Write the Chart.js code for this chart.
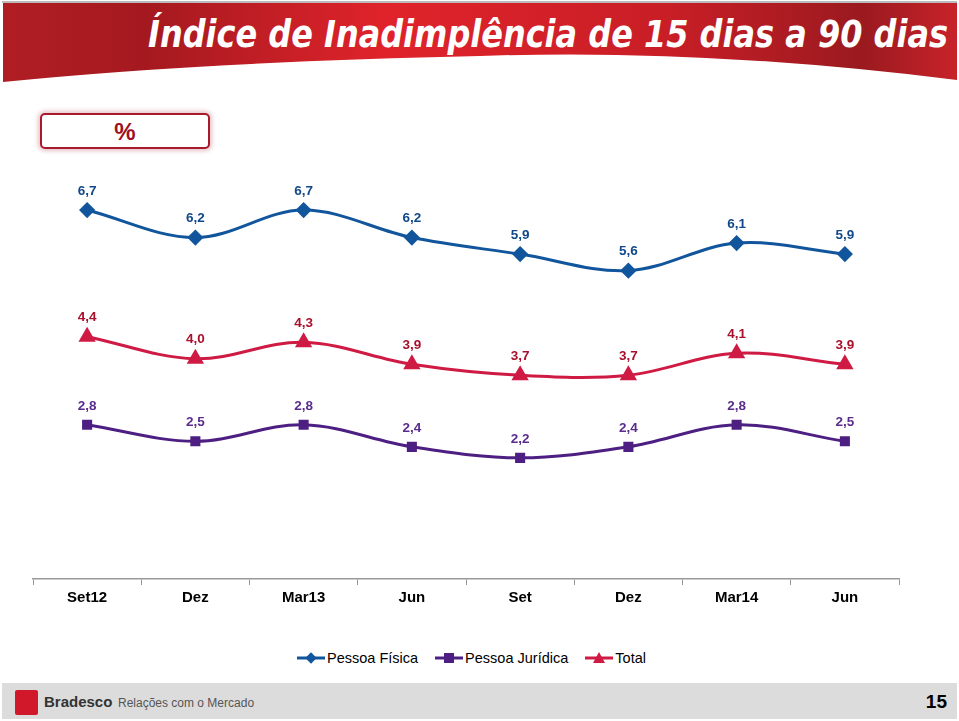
<!DOCTYPE html>
<html>
<head>
<meta charset="utf-8">
<script src="https://cdn.jsdelivr.net/npm/chart.js@4/dist/chart.umd.min.js"></script>
<style>
  html, body { margin: 0; padding: 0; background: #fff; }
  body { width: 959px; height: 721px; position: relative; overflow: hidden; font-family: "Liberation Sans", Arial, sans-serif; }
  #header { position: absolute; left: 0; top: 0; }
  #pct {
    position: absolute; left: 40px; top: 113px; width: 166px; height: 32px;
    border: 2px solid #a8192b; border-radius: 5px; background: #fff;
    box-shadow: 0 0 4px 2px rgba(200, 120, 130, 0.45);
    text-align: center; line-height: 34px; color: #9e1020; font-weight: bold; font-size: 24px;
  }
  #wrap { position: absolute; left: 0; top: 150px; width: 959px; height: 480px; }
  #legend { position: absolute; top: 650px; left: 297px; font-size: 14.5px; color: #000; white-space: nowrap; }
  #legend span.item { display: inline-flex; align-items: center; margin-right: 13px; }
  #legend svg { margin-right: 2px; }
  #footer { position: absolute; left: 2px; top: 683px; width: 955px; height: 36px; background: #dcdcdd; }
  #logo { position: absolute; left: 13px; top: 7px; width: 23px; height: 25px; background: #d1182b; border-radius: 2px; }
  #brand { position: absolute; left: 42px; top: 10px; font-size: 15px; font-weight: bold; color: #333; }
  #rel { position: absolute; left: 116px; top: 13px; font-size: 12px; color: #555; }
  #page { position: absolute; right: 10px; top: 8px; font-size: 19px; font-weight: bold; color: #000; }
</style>
</head>
<body>
<svg id="header" width="959" height="90">
  <defs>
    <linearGradient id="rg" x1="0" y1="0" x2="1" y2="0">
      <stop offset="0" stop-color="#b01e24"/>
      <stop offset="0.15" stop-color="#a4191f"/>
      <stop offset="0.4" stop-color="#e0232b"/>
      <stop offset="0.7" stop-color="#c81e26"/>
      <stop offset="0.9" stop-color="#9a1a1f"/>
      <stop offset="1" stop-color="#c8232a"/>
    </linearGradient>
  </defs>
  <rect x="2" y="1" width="955" height="2" fill="#bbb"/>
  <path d="M3,3 L957,3 L957,80 Q700,48 480,56 Q200,62 3,82 Z" fill="url(#rg)"/>
  <text x="948" y="47" text-anchor="end" textLength="800" lengthAdjust="spacingAndGlyphs"
        font-family="DejaVu Sans" font-weight="bold" font-style="italic" font-size="37" fill="#fff">Índice de Inadimplência de 15 dias a 90 dias</text>
</svg>

<div id="pct">%</div>

<div id="wrap"><canvas id="chart"></canvas></div>

<div id="legend">
  <span class="item"><svg width="28" height="14"><line x1="0" y1="7" x2="28" y2="7" stroke="#11569c" stroke-width="3"/><rect x="10" y="3" width="8" height="8" fill="#11569c" transform="rotate(45 14 7)"/></svg>Pessoa Física</span>
  <span class="item"><svg width="28" height="14"><line x1="0" y1="7" x2="28" y2="7" stroke="#4d1f82" stroke-width="3"/><rect x="9" y="2" width="10" height="10" fill="#4d1f82"/></svg>Pessoa Jurídica</span>
  <span class="item"><svg width="28" height="14"><line x1="0" y1="7" x2="28" y2="7" stroke="#cf1a44" stroke-width="3"/><polygon points="14,1 20,12 8,12" fill="#cf1a44"/></svg>Total</span>
</div>

<div id="footer">
  <div id="logo"></div>
  <div id="brand">Bradesco</div>
  <div id="rel">Relações com o Mercado</div>
  <div id="page">15</div>
</div>

<script>
const quarters = ["Set12", "Dez", "Mar13", "Jun", "Set", "Dez", "Mar14", "Jun"];
const pessoaFisica = [6.7, 6.2, 6.7, 6.2, 5.9, 5.6, 6.1, 5.9];
const total = [4.4, 4.0, 4.3, 3.9, 3.7, 3.7, 4.1, 3.9];
const pessoaJuridica = [2.8, 2.5, 2.8, 2.4, 2.2, 2.4, 2.8, 2.5];

// value labels above each point, comma decimals
const pointLabels = {
    id: 'pointLabels',
    afterDatasetsDraw(chart) {
        const ctx = chart.ctx;
        ctx.save();
        ctx.font = 'bold 13.5px "Liberation Sans", Arial, sans-serif';
        ctx.textAlign = 'center';
        ctx.textBaseline = 'middle';
        chart.data.datasets.forEach((ds, i) => {
            const meta = chart.getDatasetMeta(i);
            ctx.fillStyle = ds.labelColor;
            meta.data.forEach((pt, j) => {
                ctx.fillText(ds.data[j].toFixed(1).replace('.', ','), pt.x, pt.y - 19);
            });
        });
        ctx.restore();
    }
};

const lineChart = new Chart(document.getElementById("chart"), {
    type: 'line',
    data: {
        labels: quarters,
        datasets: [{
            label: "Pessoa Física",
            data: pessoaFisica,
            borderColor: "#11569c",
            backgroundColor: "#11569c",
            labelColor: "#10488a",
            pointStyle: 'rectRot',
            pointRadius: 6,
            borderWidth: 3,
            tension: 0.35
        }, {
            label: "Total",
            data: total,
            borderColor: "#cf1a44",
            backgroundColor: "#cf1a44",
            labelColor: "#a8102c",
            pointStyle: 'triangle',
            pointRadius: 7,
            borderWidth: 3,
            tension: 0.35
        }, {
            label: "Pessoa Jurídica",
            data: pessoaJuridica,
            borderColor: "#4d1f82",
            backgroundColor: "#4d1f82",
            labelColor: "#5a2c8c",
            pointStyle: 'rect',
            pointRadius: 5,
            borderWidth: 3,
            tension: 0.35
        }]
    },
    options: {
        responsive: true,
        maintainAspectRatio: false,
        animation: false,
        layout: { padding: { left: 33, right: 60, top: 16, bottom: 19 } },
        plugins: {
            legend: { display: false },
            tooltip: { enabled: false }
        },
        scales: {
            x: {
                offset: true,
                grid: { offset: true, drawOnChartArea: false, tickLength: 6, color: '#999' },
                border: { color: '#999', width: 1.5 },
                ticks: { color: '#000', padding: 4, font: { family: '"Liberation Sans", Arial', size: 15, weight: 'bold' } }
            },
            y: {
                display: false,
                min: 0,
                max: 7.5
            }
        }
    },
    plugins: [pointLabels]
});
</script>
</body>
</html>
